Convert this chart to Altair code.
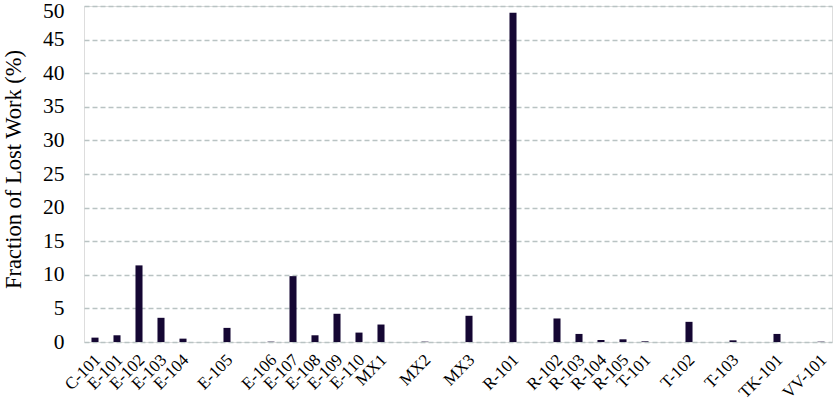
import altair as alt
import pandas as pd

# Equipment slots in chart order ("gapN" are unlabeled empty slots)
categories = ["C-101", "E-101", "E-102", "E-103", "E-104", "gap1", "E-105", "gap2",
              "E-106", "E-107", "E-108", "E-109", "E-110", "MX1", "gap3", "MX2", "gap4",
              "MX3", "gap5", "R-101", "gap6", "R-102", "R-103", "R-104", "R-105", "T-101",
              "gap7", "T-102", "gap8", "T-103", "gap9", "TK-101", "gap10", "VV-101"]
values = [0.65, 1.0, 11.4, 3.6, 0.5, 0.0, 2.1, 0.0,
          0.05, 9.8, 1.0, 4.2, 1.4, 2.6, 0.0, 0.05, 0.0,
          3.9, 0.0, 49.0, 0.0, 3.5, 1.2, 0.3, 0.4, 0.1,
          0.0, 3.0, 0.0, 0.25, 0.0, 1.2, 0.0, 0.05]
y_ticks = list(range(0, 51, 5))

df = pd.DataFrame({"equipment": categories, "lost": values})

font = "Liberation Serif"

chart = alt.Chart(df).mark_bar(color="#150733").encode(
    x=alt.X("equipment:N", sort=categories, title=None,
            scale=alt.Scale(paddingInner=0.68, paddingOuter=0.34),
            axis=alt.Axis(labelAngle=-45, labelAlign="right", labelBaseline="middle",
                          labelFont=font, labelFontSize=17, labelColor="#000000",
                          labelExpr="indexof(datum.label, 'gap') == 0 ? '' : datum.label",
                          ticks=False, domain=False, labelPadding=15, labelOffset=3,
                          labelOverlap=False, labelBound=False)),
    y=alt.Y("lost:Q", title="Fraction of Lost Work (%)",
            scale=alt.Scale(domain=[0, 50], nice=False),
            axis=alt.Axis(values=y_ticks, grid=True, gridDash=[5, 3],
                          gridColor="#b9c3c3", gridWidth=1.3, ticks=False, domain=False,
                          labelFont=font, labelFontSize=21.5, labelColor="#000000",
                          labelOffset={"condition": {"test": "datum.value == 50", "value": 5}, "value": 0},
                          labelPadding=20, titleFont=font, titleFontSize=22.5,
                          titleFontWeight="normal", titleColor="#000000", titlePadding=17,
                          titleY=163)),
).properties(
    width=748, height=336,
    autosize=alt.AutoSizeParams(type="none"),
    padding={"left": 84, "top": 6, "right": 1, "bottom": 59},
).configure_view(stroke=None).configure(background="white")

chart.save("out.html", embed_options={"renderer": "svg", "actions": False})
